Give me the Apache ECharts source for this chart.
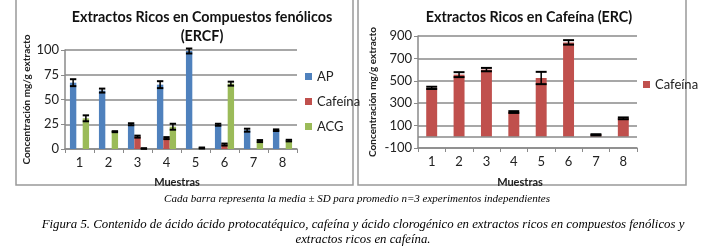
<!DOCTYPE html>
<html>
<head>
<meta charset="utf-8">
<script src="https://cdn.jsdelivr.net/npm/echarts@6/dist/echarts.min.js"></script>
<style>
  html, body { margin: 0; padding: 0; background: #fff; }
  #chart { width: 706px; height: 250px; }
</style>
</head>
<body>
<div id="chart"></div>
<script>
// data
const muestras = ['1', '2', '3', '4', '5', '6', '7', '8']
const apVals = [67, 59, 25, 65, 99, 24.5, 19, 19]
const apErr = [3.5, 2, 1, 3.5, 2.5, 1, 1.5, 0.8]
const cafVals = [0, 0, 12.5, 11, 0, 4.5, 0, 0]
const cafErr = [0, 0, 1, 1, 0, 1, 0, 0]
const acgVals = [31, 17.5, 0.5, 22.5, 1, 66, 8, 8.5]
const acgErr = [3, 0.5, 0.3, 3, 0.5, 2, 1, 0.8]
const ercVals = [437, 555, 600, 221, 525, 843, 18, 165]
const ercErr = [10, 22, 15, 8, 55, 20, 5, 8]

const colors = { ap: '#4f81bd', caf: '#c0504d', acg: '#9bbb59' }
const gridColor = '#8a8a8a'
const sans = 'Lato, "Open Sans", sans-serif'
const serif = '"Liberation Serif", "DejaVu Serif", serif'

const chart = echarts.init(document.getElementById('chart'))

// error bars drawn on top of grouped bars
function errorBars(slot, nSlots, gap) {
    return function (params, api) {
        const i = api.value(0), v = api.value(1), e = api.value(2)
        if (!e) return null
        const band = api.size([1, 0])[0]
        const bw = band * (1 - gap) / nSlots
        const x = api.coord([i, v])[0] + (slot - (nSlots - 1) / 2) * bw
        const top = api.coord([i, v + e])[1]
        const bot = api.coord([i, v - e])[1]
        const half = bw / 2
        const st = { stroke: '#000', lineWidth: 1.5 }
        return {
            type: 'group',
            children: [
                { type: 'line', shape: { x1: x, y1: top, x2: x, y2: bot }, style: st },
                { type: 'line', shape: { x1: x - half, y1: top, x2: x + half, y2: top }, style: { stroke: '#000', lineWidth: 2 } },
                { type: 'line', shape: { x1: x - half, y1: bot, x2: x + half, y2: bot }, style: { stroke: '#000', lineWidth: 2 } }
            ]
        }
    }
}

function errData(vals, errs) {
    return vals.map((v, i) => [i, v, errs[i]])
}

const leftGap = 0.34
const rightGap = 0.6

const xAxisBase = {
    type: 'category',
    data: muestras,
    axisLine: { lineStyle: { color: gridColor, width: 1.5 } },
    axisTick: { show: true, length: 4, lineStyle: { color: gridColor } },
    axisLabel: { color: '#222', fontFamily: sans, fontSize: 13, margin: 7 }
}
const yAxisBase = {
    type: 'value',
    axisLine: { show: true, lineStyle: { color: gridColor, width: 1.5 } },
    axisTick: { show: true, length: 4, lineStyle: { color: gridColor } },
    axisLabel: { color: '#222', fontFamily: sans, fontSize: 13, margin: 6 },
    splitLine: { lineStyle: { color: gridColor, width: 1.5 } }
}

chart.setOption({
    animation: false,
    title: [
        { text: 'Extractos Ricos en Compuestos fenólicos\n(ERCF)', left: 197, top: 3, textAlign: 'center',
          textStyle: { fontFamily: sans, fontSize: 14.3, fontWeight: 'bold', color: '#111', lineHeight: 19 } },
        { text: 'Extractos Ricos en Cafeína (ERC)', left: 524, top: 5, textAlign: 'center',
          textStyle: { fontFamily: sans, fontSize: 14.3, fontWeight: 'bold', color: '#111' } },
        { text: 'Muestras', left: 172, top: 172, textAlign: 'center',
          textStyle: { fontFamily: sans, fontSize: 11, fontWeight: 'bold', color: '#222' } },
        { text: 'Muestras', left: 515, top: 172, textAlign: 'center',
          textStyle: { fontFamily: sans, fontSize: 11, fontWeight: 'bold', color: '#222' } },
        { text: 'Cada barra representa la media ± SD para promedio n=3 experimentos independientes', left: 352, top: 189, textAlign: 'center',
          textStyle: { fontFamily: serif, fontStyle: 'italic', fontSize: 11, fontWeight: 'normal', color: '#000' } },
        { text: 'Figura 5. Contenido de ácido ácido protocatéquico, cafeína y ácido clorogénico en extractos ricos en compuestos fenólicos y\nextractos ricos en cafeína.',
          left: 358, top: 212, textAlign: 'center',
          textStyle: { fontFamily: serif, fontStyle: 'italic', fontSize: 12.8, fontWeight: 'normal', color: '#000', lineHeight: 15, align: 'center' } }
    ],
    legend: [
        { data: ['AP', 'Cafeína', 'ACG'], orient: 'vertical', left: 300, top: 65, itemWidth: 7, itemHeight: 7, itemGap: 12,
          icon: 'rect', textStyle: { fontFamily: sans, fontSize: 13, color: '#222' } },
        { data: ['Cafeína '], orient: 'vertical', left: 638, top: 73, itemWidth: 7, itemHeight: 7,
          icon: 'rect', textStyle: { fontFamily: sans, fontSize: 13, color: '#222' } }
    ],
    grid: [
        { left: 65, top: 50, width: 232, height: 99 },
        { left: 418, top: 36, width: 219, height: 112 }
    ],
    xAxis: [
        Object.assign({}, xAxisBase, { gridIndex: 0 }),
        Object.assign({}, xAxisBase, { gridIndex: 1, axisLine: { onZero: false, lineStyle: { color: gridColor, width: 1.5 } } })
    ],
    yAxis: [
        Object.assign({}, yAxisBase, { gridIndex: 0, min: 0, max: 100, interval: 25,
            name: 'Concentración mg/g extracto', nameLocation: 'middle', nameGap: 33,
            nameTextStyle: { fontFamily: sans, fontSize: 10, fontWeight: 'bold', color: '#222' } }),
        Object.assign({}, yAxisBase, { gridIndex: 1, min: -100, max: 900, interval: 200,
            name: 'Concentración mg/g extracto', nameLocation: 'middle', nameGap: 40,
            nameTextStyle: { fontFamily: sans, fontSize: 10, fontWeight: 'bold', color: '#222' } })
    ],
    series: [
        { name: 'AP', type: 'bar', data: apVals, itemStyle: { color: colors.ap }, barGap: 0, barCategoryGap: '34%' },
        { name: 'Cafeína', type: 'bar', data: cafVals, itemStyle: { color: colors.caf } },
        { name: 'ACG', type: 'bar', data: acgVals, itemStyle: { color: colors.acg } },
        { type: 'custom', renderItem: errorBars(0, 3, leftGap), data: errData(apVals, apErr), encode: { x: 0, y: 1 }, z: 5 },
        { type: 'custom', renderItem: errorBars(1, 3, leftGap), data: errData(cafVals, cafErr), encode: { x: 0, y: 1 }, z: 5 },
        { type: 'custom', renderItem: errorBars(2, 3, leftGap), data: errData(acgVals, acgErr), encode: { x: 0, y: 1 }, z: 5 },
        { name: 'Cafeína ', type: 'bar', xAxisIndex: 1, yAxisIndex: 1, data: ercVals, itemStyle: { color: colors.caf },
          barCategoryGap: '60%',
          markLine: { symbol: 'none', silent: true, label: { show: false },
            lineStyle: { color: gridColor, width: 1.5, type: 'solid' }, data: [{ yAxis: 0 }] } },
        { type: 'custom', xAxisIndex: 1, yAxisIndex: 1, renderItem: errorBars(0, 1, rightGap), data: errData(ercVals, ercErr), encode: { x: 0, y: 1 }, z: 5 }
    ],
    graphic: [
        { type: 'rect', shape: { x: 16, y: -5, width: 337, height: 190 }, style: { fill: 'none', stroke: '#999', lineWidth: 1.5 } },
        { type: 'rect', shape: { x: 358, y: -5, width: 328, height: 190 }, style: { fill: 'none', stroke: '#999', lineWidth: 1.5 } }
    ]
})
</script>
</body>
</html>
